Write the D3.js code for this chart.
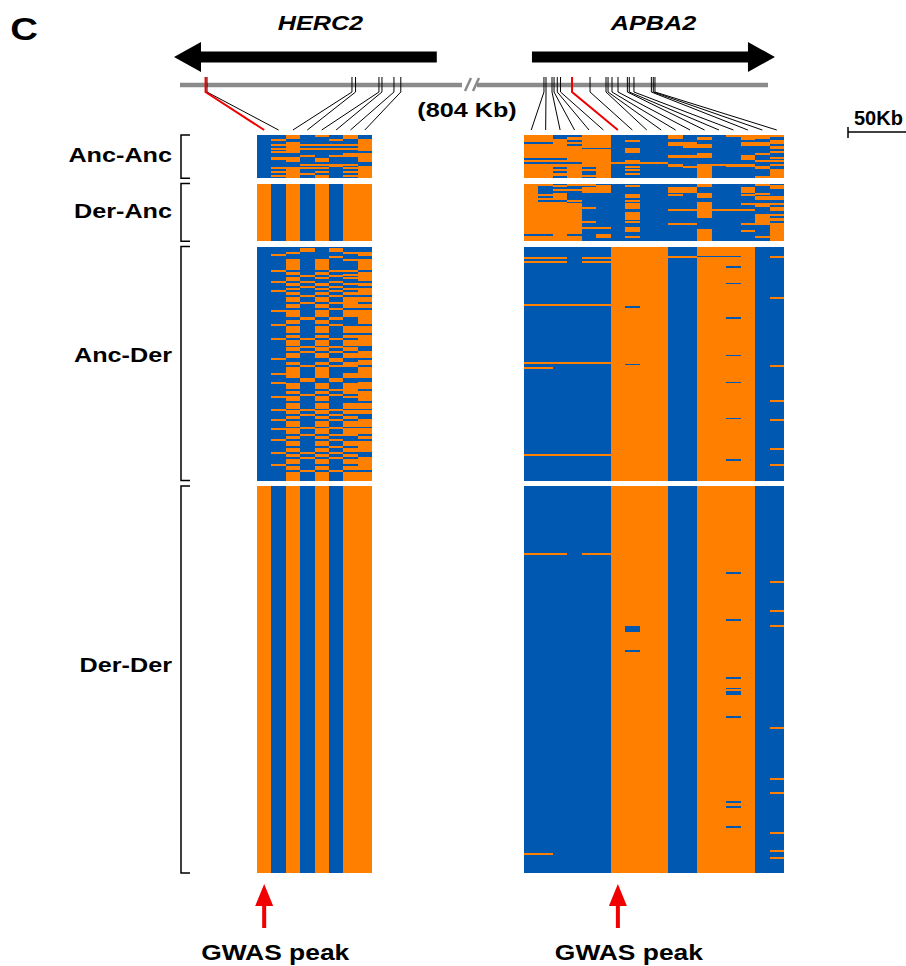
<!DOCTYPE html>
<html>
<head>
<meta charset="utf-8">
<script src="https://cdn.jsdelivr.net/npm/d3@7"></script>
<style>
  body { margin: 0; background: #fff; }
  text { font-family: "Liberation Sans", Arial, sans-serif; font-weight: bold; }
</style>
</head>
<body>
<div id="chart"></div>
<script>
// ---- data ----
const groups = ["Anc-Anc", "Der-Anc", "Anc-Der", "Der-Der"];

// genes in kb, measured from the left end of their chromosome segment
const genes = [
  { name: "HERC2", segment: 0, start: -5, end: 214, strand: -1 },
  { name: "APBA2", segment: 1, start: 45.8, end: 248.3, strand: 1 }
];
const segmentKb = [235, 242.5];
const gapLabel = "(804 Kb)";
const scaleBarKb = 50;

// SNP positions (kb) and index of the GWAS peak SNP
const herc2SnpKb = [21.3, 22.5, 143.3, 146.3, 165.8, 168.3, 178.3, 184];
const herc2Gwas = 0;
const apba2SnpKb = [55.8, 57.5, 62.5, 64.2, 66.9, 69.6, 79.2, 94.2, 107.5, 109.2, 112.5, 117.5, 125.3, 126.9, 130.8, 145.3, 146.9, 148.3];
const apba2Gwas = 6;

// haplotypes: [alleles per SNP (1 = orange), number of rows]
const herc2AncAnc = [
  ["00101010", 1], ["00100010", 1], ["01000101", 1], ["00000001", 1], ["00100001", 1],
  ["01111111", 1], ["00100001", 1], ["01111111", 1], ["00100001", 1], ["01100000", 1],
  ["00000011", 1], ["00010111", 1], ["01100001", 1], ["01101001", 1], ["00101001", 1],
  ["00000000", 1], ["00011110", 1], ["00000101", 1], ["01111011", 1], ["00100001", 1],
  ["01101011", 1], ["00110001", 1], ["01101011", 1], ["00101001", 1]
];
const herc2DerAnc = [["10101011", 32]];
const herc2AncDer = [
  ["00000000", 1], ["00010100", 2], ["00100011", 1], ["01000001", 1], ["00000100", 1], ["00000000", 1],
  ["00101011", 1], ["00101001", 5],
  ["01000110", 1], ["00101001", 1], ["00101011", 1], ["00010101", 1], ["00101011", 1], ["00100001", 1],
  ["01010100", 1], ["00101011", 1], ["00101001", 1], ["00010100", 1], ["00101011", 1], ["01000101", 1], ["00101011", 2],
  ["00010100", 1], ["00101011", 3], ["00010110", 1], ["00101011", 2], ["00000100", 1], ["01101011", 1], ["00101011", 3],
  ["00010101", 2], ["00101001", 2], ["01000100", 1], ["00101011", 4], ["00000000", 1], ["00101011", 2],
  ["01010101", 1], ["00101011", 3], ["00010100", 1], ["00101010", 2], ["00010101", 1], ["00101011", 3],
  ["01000100", 1], ["00000101", 1], ["00101011", 2], ["00010110", 1], ["00101001", 3], ["01101011", 1], ["00101011", 2],
  ["00010100", 2], ["01000001", 1], ["00101011", 3], ["00000110", 1], ["00101011", 2], ["00010101", 1], ["01101011", 1], ["00101001", 2],
  ["00000000", 1], ["00101011", 3], ["01010100", 1], ["00101011", 2], ["00010100", 1], ["00101010", 2], ["01000101", 1], ["00101011", 3],
  ["00010100", 1], ["01101011", 1], ["00101011", 2], ["00010110", 1], ["00101001", 2], ["01000100", 1], ["00101011", 3], ["00000101", 1],
  ["00101011", 2], ["01010100", 1], ["00101010", 2], ["00010101", 1], ["00101011", 3], ["01000001", 1], ["00101011", 2], ["00010100", 1], ["00101011", 5]
];
const herc2DerDer = [["10101011", 215]];

const apba2AncAnc = [
  ["110011000010001111", 1], ["110111000010100110", 1], ["111111000000100100", 1], ["111011010000000001", 1],
  ["001111000011000111", 1], ["111011000011100110", 1], ["111111000001100001", 1], ["111100010000000001", 1],
  ["111111010000000000", 1], ["111111010000000001", 1], ["111111000000100010", 1], ["111111000011100100", 1],
  ["111111000011100101", 1], ["000111000000000100", 1], ["111111010000000011", 1], ["000011111100000000", 1],
  ["111111000010111101", 1], ["111111010011101110", 1], ["110101000000100010", 1], ["111111010000100001", 1],
  ["110101000000100001", 1], ["111101010000100001", 1], ["111111000000100001", 1], ["110101000000100011", 1]
];
const apba2DerAnc = [
  ["110110000000100010", 1], ["101001010000100001", 1], ["100011000011000101", 1], ["101111000011000100", 1],
  ["100011000011000100", 1], ["101000000000100010", 1], ["111000010010100100", 1], ["101000010000100011", 1],
  ["111000000000000011", 1], ["100100010000000000", 1], ["111000000000100000", 1], ["111100010000100111", 1],
  ["111100010000100010", 1], ["111110010000100001", 1], ["111100000011111101", 1], ["111100000000100000", 1],
  ["111100010000100000", 1], ["111100010000100011", 1], ["111100010000100010", 1], ["111100010000000011", 1],
  ["111100000000000011", 1], ["111110010000000010", 1], ["111100000011000111", 1], ["111100000000000001", 1],
  ["111111010000000001", 1], ["111100010000100001", 1], ["111100010000100101", 1], ["111100000000100001", 1],
  ["001001000000100001", 1], ["111101010000100011", 1], ["111100000000100001", 1], ["111100000000100001", 1]
];
const apba2AncDer = [
  ["000000111100111100", 5], ["000000111111000101", 1], ["111011111100111100", 1], ["000000111100111100", 1],
  ["111011111100111100", 1], ["000000111100111100", 2], ["000000111100110100", 1], ["000000111100111100", 8],
  ["000000111100110100", 1], ["000000111100111100", 7], ["000000111100111101", 1], ["000000111100111100", 3],
  ["111111111100111100", 1], ["000000101100111100", 1], ["000000111100111100", 5], ["000000111100110100", 1],
  ["000000111100111100", 20], ["000000111100110100", 1], ["000000111100111100", 3], ["111111111100111100", 1],
  ["000000101100111100", 1], ["000000111100111101", 1], ["110000111100111100", 1], ["000000111100111100", 7],
  ["000000111100110100", 1], ["000000111100111100", 9], ["000000111100111101", 1], ["000000111100111100", 9],
  ["000000111100110100", 1], ["000000111100111101", 1], ["000000111100111100", 15], ["000000111100111101", 1],
  ["000000111100111100", 2], ["111111111100111100", 1], ["000000111100111100", 2], ["000000111100110100", 1],
  ["000000111100111100", 2], ["000000111100111101", 1], ["000000111100111100", 8]
];
const apba2DerDer = [
  ["000000111100111100", 37], ["111011111100111100", 1], ["000000111100111100", 10], ["000000111100110100", 1],
  ["000000111100111100", 4], ["000000111100111101", 1], ["000000111100111100", 15], ["000000111100111101", 1],
  ["000000111100111100", 4], ["000000111100110100", 1], ["000000111100111100", 2], ["000000111100111101", 1],
  ["000000101100111100", 3], ["000000111100111100", 10], ["000000101100111100", 1], ["000000111100111100", 14],
  ["000000111100110100", 1], ["000000111100111100", 5], ["000000111100110100", 1], ["000000111100111100", 1],
  ["000000111100110100", 2], ["000000111100111100", 12], ["000000111100110100", 1], ["000000111100111100", 5],
  ["000000111100111101", 1], ["000000111100111100", 27], ["000000111100111101", 1], ["000000111100111100", 7],
  ["000000111100111101", 1], ["000000111100111100", 4], ["000000111100110100", 1], ["000000111100111100", 2],
  ["000000111100110100", 1], ["000000111100111100", 10], ["000000111100110100", 1], ["000000111100111100", 2],
  ["000000111100111101", 1], ["000000111100111100", 9], ["000000111100111101", 1], ["000000111100111100", 1],
  ["110000111100111100", 1], ["000000111100111100", 1], ["000000111100111101", 1], ["000000111100111100", 8]
];

// ---- drawing ----
const W = 906, H = 966;
const BLUE = "#0058b0", ORANGE = "#ff8000", RED = "#f00000", GREY = "#8a8a8a";
const STRETCH = 1.2; // the figure's lettering is wider than plain Arial

const svg = d3.select("#chart").append("svg").attr("width", W).attr("height", H);

function expand(runs) {
  const out = [];
  runs.forEach(([p, n]) => { for (let i = 0; i < n; i++) out.push(p); });
  return out;
}

function label(x, y, str, size, anchor, italic, stretch) {
  return svg.append("text")
    .attr("transform", `translate(${x},${y}) scale(${stretch || STRETCH},1)`)
    .attr("text-anchor", anchor || "middle")
    .style("font-size", size + "px")
    .style("font-style", italic ? "italic" : "normal")
    .text(str);
}

const herc2Rows = [herc2AncAnc, herc2DerAnc, herc2AncDer, herc2DerDer].map(expand);
const apba2Rows = [apba2AncAnc, apba2DerAnc, apba2AncDer, apba2DerDer].map(expand);

// rows of all groups on one axis, with a gap between groups
const gapUnits = 3;
const starts = [];
let acc = 0;
herc2Rows.forEach(g => { starts.push(acc); acc += g.length + gapUnits; });
const y = d3.scaleLinear().domain([0, acc - gapUnits]).range([135, 873]);

const xH = d3.scaleBand().domain(d3.range(herc2SnpKb.length)).range([257, 372]);
const xA = d3.scaleBand().domain(d3.range(apba2SnpKb.length)).range([524, 784]);

// chromosome segments
const seg = [
  d3.scaleLinear().domain([0, segmentKb[0]]).range([180, 462]),
  d3.scaleLinear().domain([0, segmentKb[1]]).range([477, 768])
];

// cells snapped to whole pixels so neighbouring cells meet without seams
function drawPanel(rowsByGroup, x) {
  const g = svg.append("g");
  const n = x.domain().length;
  const colEdge = c => Math.round(c < n ? x(c) : x(n - 1) + x.bandwidth());
  rowsByGroup.forEach((rows, gi) => {
    const rowEdge = r => Math.round(y(starts[gi] + r));
    g.append("rect")
      .attr("x", colEdge(0)).attr("width", colEdge(n) - colEdge(0))
      .attr("y", rowEdge(0)).attr("height", rowEdge(rows.length) - rowEdge(0))
      .attr("fill", BLUE);
    const runs = [];
    for (let c = 0; c < n; c++) {
      let s = 0;
      for (let r = 1; r <= rows.length; r++) {
        if (r === rows.length || rows[r][c] !== rows[s][c]) {
          if (rows[s][c] === "1") runs.push({ c, r0: s, r1: r });
          s = r;
        }
      }
    }
    g.append("g").selectAll("rect").data(runs).join("rect")
      .attr("x", d => colEdge(d.c))
      .attr("width", d => colEdge(d.c + 1) - colEdge(d.c))
      .attr("y", d => rowEdge(d.r0))
      .attr("height", d => Math.min(Math.max(2, rowEdge(d.r1) - rowEdge(d.r0)), rowEdge(rows.length) - rowEdge(d.r0)))
      .attr("fill", ORANGE);
  });
}

drawPanel(herc2Rows, xH);
drawPanel(apba2Rows, xA);

// grey chromosome line with break
svg.append("g").selectAll("line").data(seg).join("line")
  .attr("x1", s => s.range()[0]).attr("x2", s => s.range()[1])
  .attr("y1", 85).attr("y2", 85)
  .attr("stroke", GREY).attr("stroke-width", 4.5);
[465, 473].forEach(bx => {
  svg.append("line").attr("x1", bx).attr("y1", 91).attr("x2", bx + 6).attr("y2", 78)
    .attr("stroke", GREY).attr("stroke-width", 2.5);
});
label(467, 117, gapLabel, 21);

// SNP connectors
function connectors(snps, gwas, s, x) {
  const data = snps.map((kb, i) => ({ kb, i })).sort((a, b) => (a.i === gwas) - (b.i === gwas));
  svg.append("g").selectAll("path").data(data).join("path")
    .attr("d", d => {
      const gx = s(d.kb);
      return `M${gx},77 L${gx},92 L${x(d.i) + x.bandwidth() / 2},130`;
    })
    .attr("fill", "none")
    .attr("stroke", d => d.i === gwas ? RED : "#000")
    .attr("stroke-width", d => d.i === gwas ? 2 : 1);
}
connectors(herc2SnpKb, herc2Gwas, seg[0], xH);
connectors(apba2SnpKb, apba2Gwas, seg[1], xA);

// gene arrows
const headLen = 27, headHalf = 15, shaftHalf = 5.5, geneY = 57;
genes.forEach(g => {
  const s = seg[g.segment];
  const a = s(g.start), b = s(g.end);
  const tip = g.strand < 0 ? a : b;
  const tail = g.strand < 0 ? b : a;
  const base = tip - g.strand * headLen;
  const pts = [
    [tail, geneY - shaftHalf], [base, geneY - shaftHalf], [base, geneY - headHalf],
    [tip, geneY], [base, geneY + headHalf], [base, geneY + shaftHalf], [tail, geneY + shaftHalf]
  ];
  svg.append("path").attr("d", d3.line()(pts) + "Z").attr("fill", "#000");
  const mid = (a + b) / 2 + (g.strand < 0 ? 15 : 0);
  label(mid, 30, g.name, 21, "middle", true);
});

// scale bar
const sbX = 848;
const sbLen = seg[1](scaleBarKb) - seg[1](0);
svg.append("line").attr("x1", sbX).attr("x2", sbX + sbLen).attr("y1", 132).attr("y2", 132)
  .attr("stroke", "#000").attr("stroke-width", 1.5);
svg.append("line").attr("x1", sbX).attr("x2", sbX).attr("y1", 127).attr("y2", 138)
  .attr("stroke", "#000").attr("stroke-width", 1.5);
label(854, 125, scaleBarKb + "Kb", 20, "start", false, 1.0);

// group brackets and labels
groups.forEach((name, gi) => {
  const top = y(starts[gi]), bot = y(starts[gi] + herc2Rows[gi].length);
  svg.append("path")
    .attr("d", `M190,${top} L181,${top} L181,${bot} L190,${bot}`)
    .attr("fill", "none").attr("stroke", "#000").attr("stroke-width", 1.5);
  const h = bot - top;
  const cy = top + h / 2 - Math.min(15, h * 0.04);
  label(172, cy + 7.5, name, 21, "end");
});

// panel letter
label(24, 40, "C", 32);

// GWAS peak arrows
[[xH, herc2Gwas], [xA, apba2Gwas]].forEach(([x, gi]) => {
  const cx = x(gi) + x.bandwidth() / 2;
  svg.append("path")
    .attr("d", `M${cx},884 L${cx + 9},906 L${cx + 2},906 L${cx + 2},928 L${cx - 2},928 L${cx - 2},906 L${cx - 9},906 Z`)
    .attr("fill", RED);
  label(cx + 11, 960, "GWAS peak", 22);
});
</script>
</body>
</html>
